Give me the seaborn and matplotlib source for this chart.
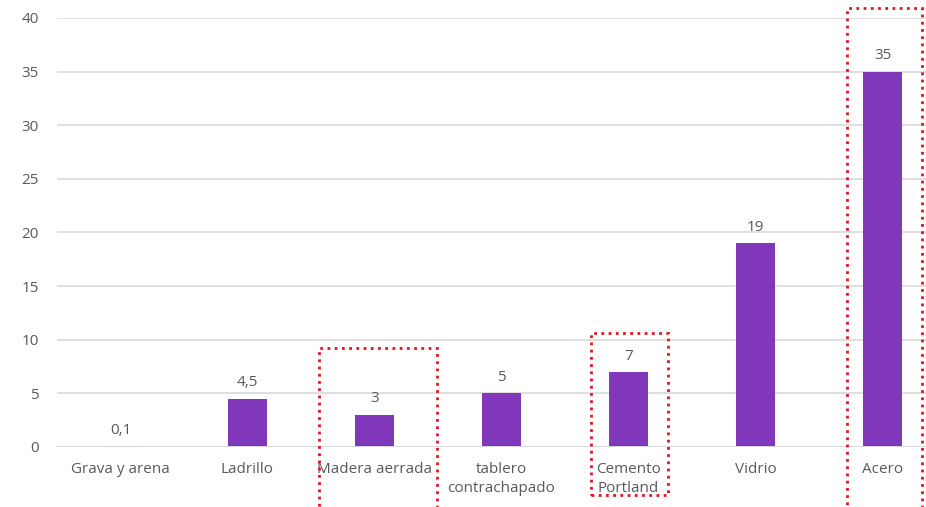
import matplotlib
matplotlib.use("Agg")
import matplotlib.pyplot as plt
from matplotlib.patches import Rectangle
import seaborn as sns
import pandas as pd

materiales = ["Grava y arena", "Ladrillo", "Madera aerrada", "tablero\ncontrachapado",
              "Cemento\nPortland", "Vidrio", "Acero"]
valores = [0.1, 4.5, 3, 5, 7, 19, 35]
etiquetas = ["0,1", "4,5", "3", "5", "7", "19", "35"]
y_ticks = [0, 5, 10, 15, 20, 25, 30, 35, 40]

df = pd.DataFrame({"material": materiales, "valor": valores})

sns.set_theme(style="white")
plt.rcParams["font.family"] = ["Open Sans", "DejaVu Sans"]

gris = "#595959"
morado = "#8137B9"

fig = plt.figure(figsize=(9.26, 5.07), dpi=100)
W, H = 926, 507
left, right, top, bottom = 57, 946, 18, 447
ax = fig.add_axes([left / W, 1 - bottom / H, (right - left) / W, (bottom - top) / H])

sns.barplot(data=df, x="material", y="valor", color=morado, width=0.31,
            saturation=1, linewidth=0, edgecolor="none", ax=ax, zorder=3)

ax.set_ylim(0, 40)
ax.set_xlim(-0.5, len(materiales) - 0.5)
ax.set_yticks(y_ticks)
ax.yaxis.grid(True, color="#D9D9D9", linewidth=1.2, zorder=0)
ax.xaxis.grid(False)
for s in ax.spines.values():
    s.set_visible(False)
# baseline drawn over the bars
ax.axhline(0, color="#D9D9D9", linewidth=1.4, zorder=4)

ax.set_xlabel("")
ax.set_ylabel("")
ax.tick_params(axis="y", length=0, pad=13, labelsize=11, labelcolor=gris)
ax.tick_params(axis="x", length=0, pad=11, labelsize=11, labelcolor=gris)
for t in ax.get_xticklabels():
    t.set_linespacing(1.3)

for i, (v, lab) in enumerate(zip(valores, etiquetas)):
    ax.annotate(lab, (i, v), xytext=(0, 6), textcoords="offset points",
                ha="center", va="bottom", fontsize=11, color=gris)

# red dotted highlight boxes around selected materials
cajas = [(2, -0.437, 0.496, -6.5, 9.23),
         (4, -0.295, 0.311, -4.48, 10.63),
         (6, -0.28, 0.31, -6.5, 40.9)]
for i, dl, dr, y0, y1 in cajas:
    r = Rectangle((i + dl, y0), dr - dl, y1 - y0, fill=False, edgecolor="#E0141E",
                  linewidth=2, linestyle=(0, (1, 1.6)), clip_on=False, zorder=5)
    ax.add_patch(r)

fig.savefig("out.png", dpi=100)
